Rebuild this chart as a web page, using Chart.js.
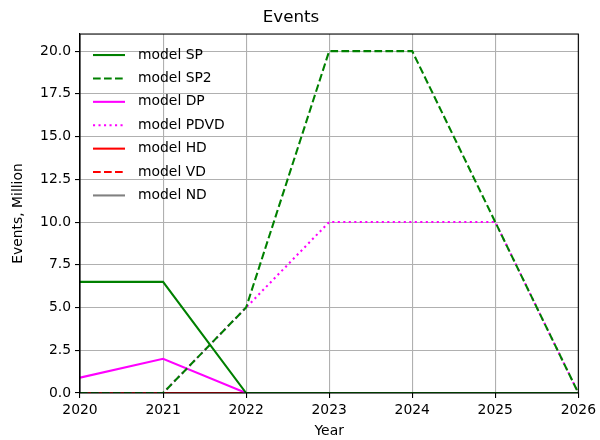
<!DOCTYPE html>
<html>
<head>
<meta charset="utf-8">
<script src="https://cdn.jsdelivr.net/npm/chart.js@4/dist/chart.umd.min.js"></script>
<style>
  html, body { margin: 0; padding: 0; background: #fff; }
  #wrap { width: 600px; height: 440px; }
</style>
</head>
<body>
<div id="wrap"><canvas id="eventsChart"></canvas></div>
<script>
const years = [2020, 2021, 2022, 2023, 2024, 2025, 2026];
const modelSP = [6.5, 6.5, 0, 0, 0, 0, 0];
const modelSP2 = [0, 0, 5, 20, 20, 10, 0];
const modelDP = [0.9, 2, 0, 0, 0, 0, 0];
const modelPDVD = [0, 0, 5, 10, 10, 10, 0];
const modelHD = [0, 0, 0, 0, 0, 0, 0];
const modelVD = [0, 0, 0, 0, 0, 0, 0];
const modelND = [0, 0, 0, 0, 0, 0, 0];
const yTicks = [0, 2.5, 5, 7.5, 10, 12.5, 15, 17.5, 20];

const FONT = 'DejaVu Sans';
const LW = 2.08;
const DASHED = [7.7, 3.3];
const DOTTED = [2.1, 3.4];

function series(label, values, color, dash) {
    return {
        label: label,
        data: values.map((v, i) => ({ x: years[i], y: v })),
        borderColor: color,
        backgroundColor: color,
        borderWidth: LW,
        borderDash: dash || [],
        pointRadius: 0,
        tension: 0,
        fill: false
    };
}

// legend drawn inside the plot, top-left, no frame
const innerLegend = {
    id: 'innerLegend',
    afterDraw(chart) {
        const ctx = chart.ctx;
        const area = chart.chartArea;
        ctx.save();
        ctx.font = '13.9px "' + FONT + '"';
        ctx.textBaseline = 'middle';
        ctx.fillStyle = '#000';
        chart.data.datasets.forEach((ds, i) => {
            const y = area.top + 21 + i * 23.4;
            ctx.strokeStyle = ds.borderColor;
            ctx.lineWidth = LW;
            ctx.setLineDash(ds.borderDash);
            ctx.beginPath();
            ctx.moveTo(area.left + 13, y);
            ctx.lineTo(area.left + 45, y);
            ctx.stroke();
            ctx.setLineDash([]);
            ctx.fillText(ds.label, area.left + 58, y);
        });
        // axes frame
        ctx.strokeStyle = '#000';
        ctx.lineWidth = 1.1;
        ctx.strokeRect(area.left, area.top, area.right - area.left, area.bottom - area.top);
        ctx.restore();
    }
};

new Chart(document.getElementById('eventsChart'), {
    type: 'line',
    data: {
        datasets: [
            series('model SP', modelSP, '#008000'),
            series('model SP2', modelSP2, '#008000', DASHED),
            series('model DP', modelDP, '#ff00ff'),
            series('model PDVD', modelPDVD, '#ff00ff', DOTTED),
            series('model HD', modelHD, '#ff0000'),
            series('model VD', modelVD, '#ff0000', DASHED),
            series('model ND', modelND, '#808080')
        ]
    },
    plugins: [innerLegend],
    options: {
        responsive: true,
        maintainAspectRatio: false,
        animation: false,
        layout: { padding: { left: 0, right: 18, top: 0, bottom: 0 } },
        plugins: {
            legend: { display: false },
            tooltip: { enabled: false },
            title: {
                display: true,
                text: 'Events',
                color: '#000',
                font: { family: FONT, size: 16.7, weight: 'normal', lineHeight: 1.2 },
                padding: { top: 8, bottom: 6 }
            }
        },
        scales: {
            x: {
                type: 'linear',
                min: years[0],
                max: years[years.length - 1],
                afterFit: s => { s.height = 47; },
                afterBuildTicks: s => { s.ticks = years.map(v => ({ value: v })); },
                ticks: {
                    color: '#000',
                    font: { family: FONT, size: 13.9 },
                    padding: 4,
                    maxRotation: 0,
                    callback: v => String(v)
                },
                grid: { color: '#b0b0b0', lineWidth: 1.1, tickLength: 5, tickColor: '#000' },
                border: { color: '#000', width: 1.1 },
                title: {
                    display: true,
                    text: 'Year',
                    color: '#000',
                    font: { family: FONT, size: 13.9, lineHeight: 1.2 },
                    padding: { top: 0, bottom: 0 }
                }
            },
            y: {
                min: 0,
                max: 21,
                afterFit: s => { s.width = 80; },
                afterBuildTicks: s => { s.ticks = yTicks.map(v => ({ value: v })); },
                ticks: {
                    color: '#000',
                    font: { family: FONT, size: 13.9 },
                    padding: 4,
                    callback: v => Number(v).toFixed(1)
                },
                grid: { color: '#b0b0b0', lineWidth: 1.1, tickLength: 5, tickColor: '#000' },
                border: { color: '#000', width: 1.1 },
                title: {
                    display: true,
                    text: 'Events, Million',
                    color: '#000',
                    font: { family: FONT, size: 13.9, lineHeight: 1.2 },
                    padding: { top: 10, bottom: 0 }
                }
            }
        }
    }
});
</script>
</body>
</html>
